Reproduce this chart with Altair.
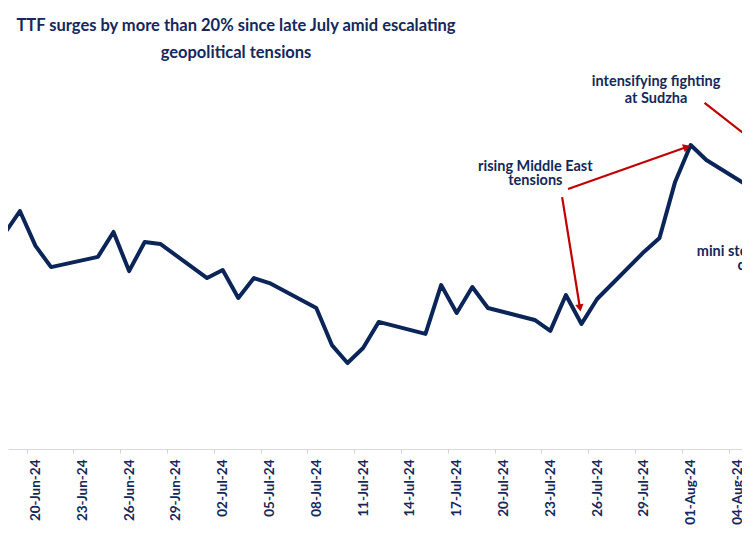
import math
import altair as alt
import pandas as pd

# ---- data ----
dates = ["2024-06-17", "2024-06-18", "2024-06-19", "2024-06-20", "2024-06-21",
         "2024-06-24", "2024-06-25", "2024-06-26", "2024-06-27", "2024-06-28",
         "2024-07-01", "2024-07-02", "2024-07-03", "2024-07-04", "2024-07-05",
         "2024-07-08", "2024-07-09", "2024-07-10", "2024-07-11", "2024-07-12",
         "2024-07-15", "2024-07-16", "2024-07-17", "2024-07-18", "2024-07-19",
         "2024-07-22", "2024-07-23", "2024-07-24", "2024-07-25", "2024-07-26",
         "2024-07-29", "2024-07-30", "2024-07-31", "2024-08-01", "2024-08-02",
         "2024-08-05"]
ttf = [34.98, 35.78, 36.93, 35.18, 34.12,
       34.63, 35.88, 33.92, 35.38, 35.28,
       33.57, 33.97, 32.57, 33.57, 33.32,
       32.07, 30.21, 29.31, 30.06, 31.37,
       30.77, 33.22, 31.82, 33.12, 32.07,
       31.47, 30.92, 32.72, 31.27, 32.52,
       34.88, 35.58, 38.39, 40.24, 39.49,
       38.03]

tick_dates = ["2024-06-20", "2024-06-23", "2024-06-26", "2024-06-29", "2024-07-02",
              "2024-07-05", "2024-07-08", "2024-07-11", "2024-07-14", "2024-07-17",
              "2024-07-20", "2024-07-23", "2024-07-26", "2024-07-29", "2024-08-01",
              "2024-08-04"]

title_lines = ["TTF surges by more than 20% since late July amid escalating",
               "geopolitical tensions"]

# annotations (data coordinates)
note_text = ["rising Middle East", "tensions", "intensifying fighting", "at Sudzha",
             "mini storage", "concerns"]
note_date = ["2024-07-22T01:00", "2024-07-22T01:00", "2024-07-29T18:45", "2024-07-29T18:45",
             "2024-08-01T09:20", "2024-08-04T00:00"]
note_value = [39.14, 38.44, 43.40, 42.55, 34.88, 34.17]
note_align = ["center", "center", "center", "center", "left", "left"]

arrow_start_date = ["2024-07-24T03:20", "2024-07-23T18:13", "2024-08-01T21:20"]
arrow_start_value = [38.03, 37.63, 42.35]
arrow_end_date = ["2024-07-31T18:00", "2024-07-24T21:36", "2024-08-04T22:30"]
arrow_end_value = [40.14, 32.07, 40.49]

# ---- layout ----
W, H = 734, 379
Y_DOMAIN = [25, 44]
NAVY = "#14285a"
LINE = "#0b2559"
RED = "#c00000"
FONT = "Lato"

def ms(s):
    return pd.Timestamp(s, tz="UTC").value // 10**6

d_ref = pd.Timestamp("2024-06-20", tz="UTC")
px_per_day = 15.6
d0 = d_ref - pd.Timedelta(days=27.5 / px_per_day)
d1 = d0 + pd.Timedelta(days=W / px_per_day)
x_domain = [d0.value // 10**6, d1.value // 10**6]

def iso(s):
    return pd.Timestamp(s, tz="UTC").strftime("%Y-%m-%dT%H:%M:%SZ")

series = pd.DataFrame({"date": [iso(d) for d in dates], "ttf": ttf})
notes = pd.DataFrame({"date": [iso(d) for d in note_date], "value": note_value,
                      "text": note_text, "align": note_align})

ppms = W / (x_domain[1] - x_domain[0])
ppu = H / (Y_DOMAIN[1] - Y_DOMAIN[0])
angles = []
for sd, sv, ed, ev in zip(arrow_start_date, arrow_start_value, arrow_end_date, arrow_end_value):
    dx = (ms(ed) - ms(sd)) * ppms
    dy = -(ev - sv) * ppu
    angles.append(math.degrees(math.atan2(dx, -dy)) % 360)
arrows = pd.DataFrame({"sd": [iso(d) for d in arrow_start_date], "sv": arrow_start_value,
                       "ed": [iso(d) for d in arrow_end_date], "ev": arrow_end_value,
                       "angle": angles})

xscale = alt.Scale(type="utc", domain=x_domain)
yscale = alt.Scale(domain=Y_DOMAIN, nice=False, zero=False)

x_axis = alt.Axis(values=[ms(d) for d in tick_dates], format="%d-%b-%y", formatType="time",
                  labelAngle=270, labelFont=FONT, labelFontSize=13.5, labelFontWeight="bold",
                  labelColor=NAVY, labelPadding=6, tickSize=4, tickColor="#d0d0d0",
                  domainColor="#d9d9d9", domainWidth=1.2, grid=False, title=None,
                  tickOffset=-9, labelOffset=9, labelOverlap=False, labelBound=False,
                  labelFlush=False)

line = alt.Chart(series).mark_line(color=LINE, strokeWidth=4, strokeJoin="round",
                                   clip=True).encode(
    x=alt.X("date:T", scale=xscale, axis=x_axis),
    y=alt.Y("ttf:Q", scale=yscale, axis=None),
)

arrow_lines = alt.Chart(arrows).mark_rule(color=RED, strokeWidth=2.2, clip=True).encode(
    x=alt.X("sd:T", scale=xscale), x2="ed:T",
    y=alt.Y("sv:Q", scale=yscale), y2="ev:Q",
)
arrow_heads = alt.Chart(arrows).mark_point(shape="triangle-up", filled=True, color=RED,
                                           size=70, opacity=1, clip=True).encode(
    x=alt.X("ed:T", scale=xscale),
    y=alt.Y("ev:Q", scale=yscale),
    angle=alt.Angle("angle:Q", scale=None),
)

text_center = alt.Chart(notes).transform_filter("datum.align == 'center'").mark_text(
    font=FONT, fontSize=14.5, fontWeight="bold", color=NAVY, align="center",
    baseline="middle", clip=True).encode(
    x=alt.X("date:T", scale=xscale), y=alt.Y("value:Q", scale=yscale), text="text:N")
text_left = alt.Chart(notes).transform_filter("datum.align == 'left'").mark_text(
    font=FONT, fontSize=14.5, fontWeight="bold", color=NAVY, align="left",
    baseline="middle", clip=True).encode(
    x=alt.X("date:T", scale=xscale), y=alt.Y("value:Q", scale=yscale), text="text:N")

chart = alt.layer(line, arrow_lines, arrow_heads, text_center, text_left).properties(
    width=W, height=H,
    padding={"left": 0, "top": 62, "right": 0, "bottom": 79},
    autosize=alt.AutoSizeParams(type="none"),
    background="white",
    title=alt.TitleParams(text=title_lines, font=FONT, fontSize=16.5, fontWeight="bold",
                          color=NAVY, anchor="middle", dx=-139, lineHeight=27, offset=9),
).configure_view(stroke=None)

chart.save("out.html", embed_options={"renderer": "svg", "actions": False})
